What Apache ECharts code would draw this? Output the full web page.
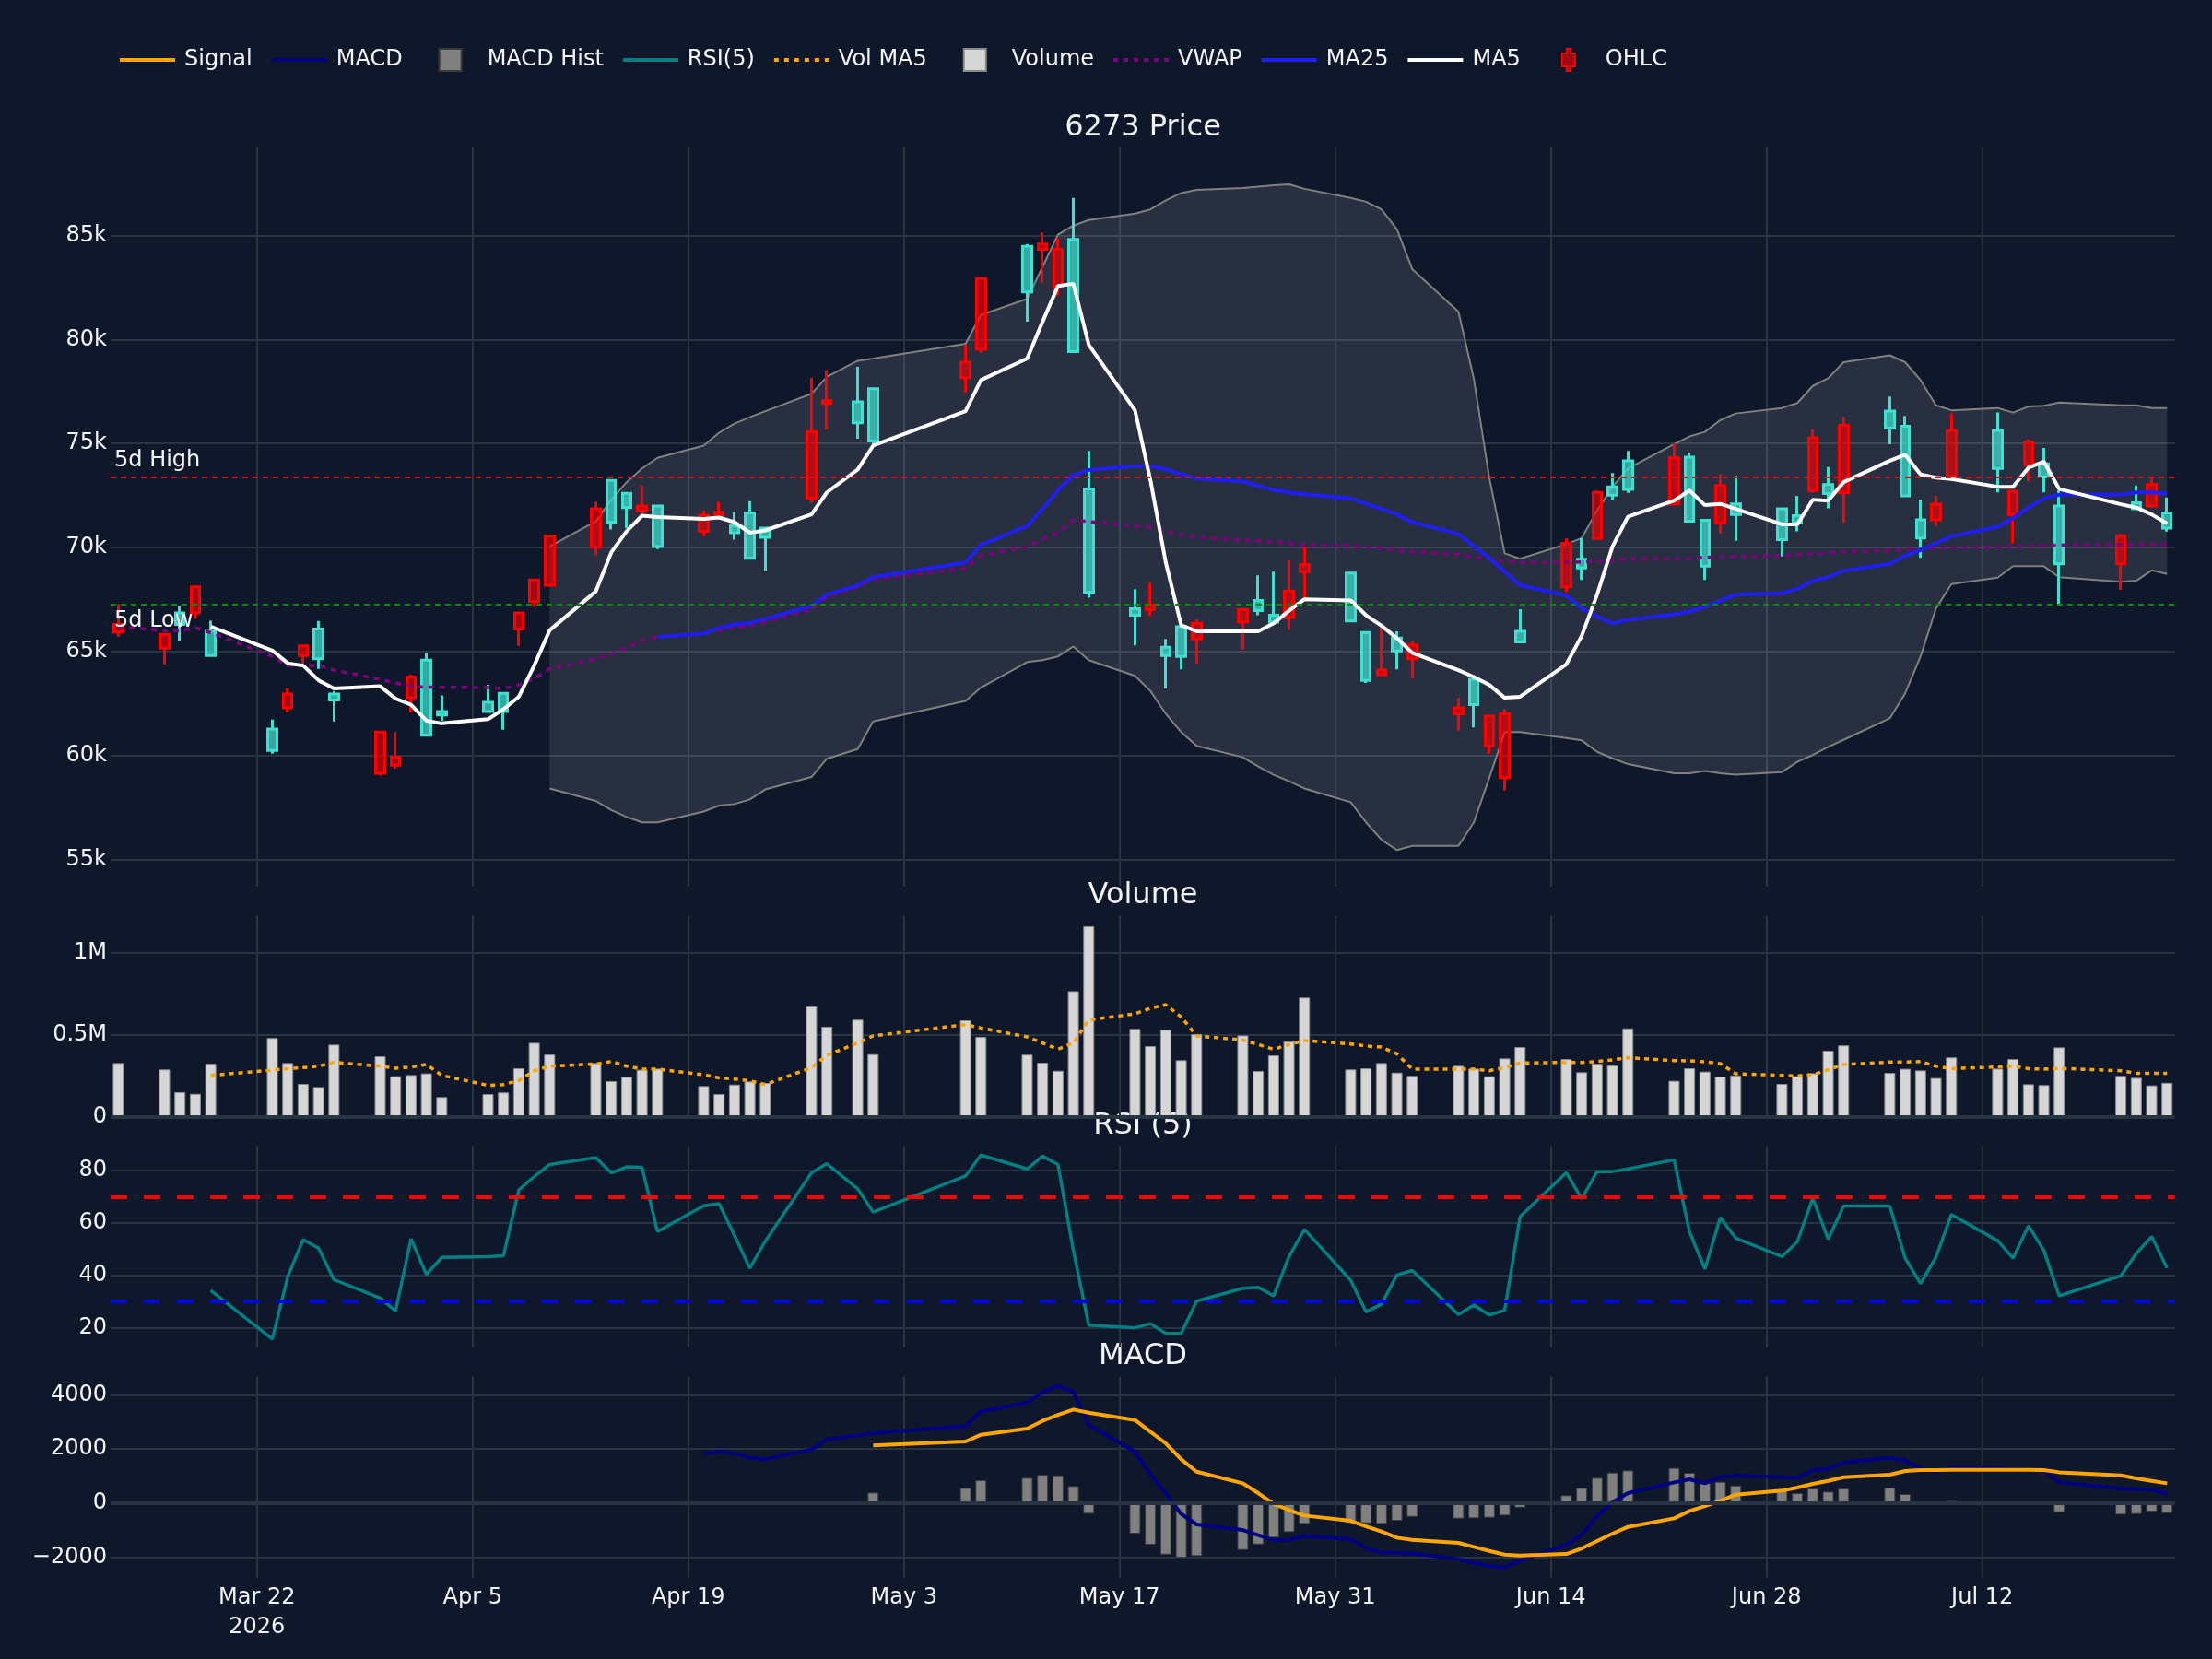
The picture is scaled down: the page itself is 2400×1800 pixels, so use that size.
<!DOCTYPE html>
<html>
<head>
<meta charset="utf-8">
<script src="https://cdn.jsdelivr.net/npm/echarts@6/dist/echarts.min.js"></script>
<style>
html,body{margin:0;padding:0;background:#0f172a;}
#chart{width:2400px;height:1800px;}
</style>
</head>
<body>
<div id="chart"></div>
<script>
// ---------------- DATA ----------------
const tradeDates = [
  '2026-03-13','2026-03-16','2026-03-17','2026-03-18','2026-03-19','2026-03-23','2026-03-24','2026-03-25','2026-03-26','2026-03-27','2026-03-30','2026-03-31',
  '2026-04-01','2026-04-02','2026-04-03','2026-04-06','2026-04-07','2026-04-08','2026-04-09','2026-04-10','2026-04-13','2026-04-14','2026-04-15','2026-04-16','2026-04-17','2026-04-20','2026-04-21','2026-04-22','2026-04-23','2026-04-24','2026-04-27','2026-04-28','2026-04-30',
  '2026-05-01','2026-05-07','2026-05-08','2026-05-11','2026-05-12','2026-05-13','2026-05-14','2026-05-15','2026-05-18','2026-05-19','2026-05-20','2026-05-21','2026-05-22','2026-05-25','2026-05-26','2026-05-27','2026-05-28','2026-05-29',
  '2026-06-01','2026-06-02','2026-06-03','2026-06-04','2026-06-05','2026-06-08','2026-06-09','2026-06-10','2026-06-11','2026-06-12','2026-06-15','2026-06-16','2026-06-17','2026-06-18','2026-06-19','2026-06-22','2026-06-23','2026-06-24','2026-06-25','2026-06-26','2026-06-29','2026-06-30',
  '2026-07-01','2026-07-02','2026-07-03','2026-07-06','2026-07-07','2026-07-08','2026-07-09','2026-07-10','2026-07-13','2026-07-14','2026-07-15','2026-07-16','2026-07-17','2026-07-21','2026-07-22','2026-07-23','2026-07-24'
];

const openP = [
  65930,65160,66850,66850,65970,61270,62290,64800,66080,62950,59140,59530,
  62770,64580,62110,62550,62990,66080,67400,68180,70010,73230,72610,71770,71990,70780,71550,71040,71660,70930,72370,76930,77000,
  77640,78160,79530,84490,84340,82570,84820,72810,67050,67010,65200,66190,65600,66410,67450,66740,66630,68840,
  68770,65910,63880,65640,64650,62000,63660,60460,58920,65970,68110,69430,70430,72920,74170,72080,74350,71310,71200,72100,71860,71530,
  72740,73030,72630,76560,75830,71330,71330,73420,75630,71590,73980,74020,71990,69210,72150,71990,71660
];
const closeP = [
  66300,65820,66300,68110,64800,60240,62950,65270,64650,62660,61120,59910,
  63770,60970,61940,62110,62110,66850,68440,70560,71860,71220,71920,71990,70050,71550,71700,70710,69480,70490,75560,77060,76000,
  75120,78910,82930,82290,84600,84340,79420,67850,66740,67230,64800,64760,66350,67010,66960,66410,67910,69170,
  66460,63610,64100,65020,65310,62290,62440,61890,62000,65460,70200,69010,72650,72520,72790,74310,71260,69100,72980,71590,70380,71200,
  75280,72590,75870,75740,72480,70450,72080,75630,73800,72700,75060,73400,69210,70540,71860,73030,70930
];
const lowP = [
  65710,64380,65490,66570,64800,60080,62070,64360,64160,61630,59030,59360,
  62070,60970,61670,62110,61230,65270,67140,68110,69610,70870,70930,71590,69920,70540,71370,70380,69430,68880,72150,75670,75230,
  74950,77460,79360,80860,82730,82130,79420,67580,65290,66700,63220,64140,64430,65090,66740,66410,66040,67510,
  66410,63480,63830,64140,63700,61190,61340,60080,58320,65420,67850,68440,70380,72300,72630,72040,71260,68440,70670,70320,69570,70780,
  72650,71880,71200,74970,72480,69500,71040,73360,72650,70200,73180,72650,67290,67960,71810,71920,70760
];
const highP = [
  67290,65850,67180,68150,66480,61720,63220,65270,66460,63100,61120,61120,
  63880,64930,62880,63390,63040,66850,68500,70600,72190,73230,72610,72980,71990,71770,72190,71700,72230,70930,78160,78520,78690,
  77640,79750,82930,84600,85150,84870,86810,74640,68000,68290,65600,66190,66570,67070,68660,68840,69390,70050,
  68840,65970,66190,65970,65490,62770,63700,61890,62220,67030,70430,70450,72740,73580,74640,75010,74570,71310,73530,73450,71860,72480,
  75670,73870,76270,77260,76330,72300,72480,76450,76490,72700,75190,74790,72740,70670,72980,73360,72410
];

const volume = [
  327000,288000,150000,140000,323000,479000,327000,200000,181000,439000,368000,247000,
  254000,264000,120000,138000,148000,295000,450000,379000,327000,217000,243000,286000,293000,187000,138000,196000,215000,206000,671000,548000,591000,
  381000,587000,486000,378000,329000,280000,764000,1159000,535000,430000,529000,344000,503000,495000,279000,374000,458000,725000,
  288000,295000,327000,269000,249000,310000,293000,247000,355000,424000,351000,271000,323000,312000,538000,219000,295000,275000,245000,252000,200000,247000,
  265000,402000,434000,267000,292000,282000,236000,361000,293000,351000,198000,193000,422000,249000,237000,191000,207000
];
const volMA5 = [
  null,null,null,null,252000,284000,293000,299000,308000,331000,308000,295000,
  303000,318000,252000,191000,196000,221000,280000,308000,321000,336000,308000,290000,290000,256000,237000,230000,219000,196000,299000,374000,449000,
  492000,561000,540000,486000,449000,411000,449000,589000,626000,660000,682000,607000,492000,467000,439000,411000,439000,464000,
  443000,430000,424000,383000,290000,290000,290000,280000,299000,327000,331000,331000,336000,346000,359000,342000,340000,335000,323000,262000,252000,249000,
  256000,286000,318000,333000,333000,336000,308000,293000,303000,308000,293000,290000,295000,280000,265000,264000,264000
];

const ma5 = [
  null,null,null,null,66190,65045,64430,64320,63610,63215,63325,62730,
  62440,61670,61540,61740,62220,62820,64320,66015,67890,69760,70780,71530,71460,71370,71440,71220,70710,70820,71590,72650,73755,
  74900,76555,78050,79090,80855,82575,82685,79750,76600,73250,69280,66260,65970,65970,65970,66350,66960,67510,
  67450,66740,66240,65640,64930,64100,63770,63390,62770,62820,64380,65750,67735,70050,71480,72255,72740,72035,72100,71860,71110,71110,
  72300,72255,73140,74175,74460,73510,73360,73290,72920,72920,73840,74130,72810,72080,71920,71590,71150
];
const ma25 = [
  null,null,null,null,null,null,null,null,null,null,null,null,
  null,null,null,null,null,null,null,null,null,null,null,null,65706,65860,66130,66300,66370,66570,67180,67735,68180,
  68570,69280,70120,71040,71860,72760,73470,73730,73910,73910,73755,73530,73310,73180,72960,72760,72650,72560,
  72365,72100,71860,71590,71220,70650,70050,69500,68840,68180,67690,67070,66680,66350,66520,66790,66920,67140,67450,67735,67800,68020,
  68400,68570,68880,69210,69610,69870,70200,70535,71000,71420,71920,72365,72540,72540,72650,72650,72590
];
const vwap = [
  66190,66000,65990,66150,65900,64760,64320,64320,64320,64100,63660,63480,
  63330,63280,63280,63260,63215,63390,63700,64160,64650,64870,65200,65530,65706,65860,66015,66130,66240,66410,67010,67625,68110,
  68460,69010,69610,70050,70380,70710,71330,71240,71040,70980,70780,70620,70490,70360,70315,70270,70200,70140,
  70090,70010,69960,69870,69785,69675,69540,69455,69345,69280,69280,69300,69345,69390,69430,69455,69480,69520,69545,69565,69610,69650,
  69700,69740,69785,69870,69900,69920,69960,69985,70030,70050,70070,70090,70115,70140,70140,70160,70160
];
const bbUpper = [
  null,null,null,null,null,null,null,null,null,null,null,null,
  null,null,null,null,null,null,null,70050,71260,72300,73140,73800,74310,74900,75520,75960,76270,76555,77390,78210,78980,
  79090,79800,81185,81960,83500,85044,85485,85750,86060,86260,86700,87050,87205,87290,87360,87425,87470,87250,
  86810,86630,86260,85310,83390,81340,78100,73360,69720,69455,70160,70450,71770,72920,73800,74970,75340,75560,76130,76445,76710,76950,
  77770,78140,78910,79245,78910,78050,76840,76600,76710,76490,76780,76820,76970,76840,76840,76710,76710
];
const bbLower = [
  null,null,null,null,null,null,null,null,null,null,null,null,
  null,null,null,null,null,null,null,58410,57810,57370,57040,56780,56780,57300,57590,57660,57880,58360,58960,59840,60300,
  61630,62620,63260,64490,64580,64760,65240,64580,63830,63100,62000,61120,60460,59910,59470,59070,58760,58410,
  57750,56780,55940,55450,55650,55650,56780,58915,61120,61120,60830,60720,60170,59860,59580,59140,59140,59250,59140,59070,59200,59690,
  60020,60410,60745,61780,62990,64760,67070,68240,68550,69100,69100,69100,68570,68350,68400,68900,68730
];
const fiveDayHigh = 73400;
const fiveDayLow = 67270;

const rsi5 = [
  null,null,null,null,34.2,15.6,39.5,53.6,50.3,38.3,31.3,26.3,
  53.9,40.3,46.8,47.1,47.4,72.6,77.7,82.3,84.9,79.1,81.4,81.2,56.7,66.5,67.3,55.3,42.7,53.0,79.1,82.6,73.0,
  64.1,77.9,85.9,80.6,85.5,82.3,49.5,20.9,19.9,21.5,17.8,17.8,30.1,35.0,35.4,32.1,47.1,57.5,
  38.1,26.0,28.9,40.1,41.8,25.0,28.6,24.8,26.6,62.4,79.2,69.2,79.6,79.6,80.6,84.1,56.5,42.4,62.0,54.2,47.1,52.8,
  69.4,53.8,66.4,66.4,46.5,36.8,46.9,63.2,53.2,46.5,58.9,49.5,32.1,39.8,48.3,54.8,42.8
];
const macdLine = [
  null,null,null,null,null,null,null,null,null,null,null,null,
  null,null,null,null,null,null,null,null,null,null,null,null,null,1818,1898,1841,1670,1614,1977,2352,2500,
  2580,2841,3375,3716,4091,4341,4114,2886,1898,1045,364,-409,-795,-1000,-1193,-1375,-1364,-1227,
  -1341,-1682,-1830,-1852,-1864,-2080,-2216,-2330,-2386,-2136,-1545,-1170,-489,23,364,761,875,727,955,1011,955,932,
  1216,1250,1500,1670,1557,1273,1159,1295,1273,1250,1216,1216,761,534,500,500,330
];
const signalLine = [
  null,null,null,null,null,null,null,null,null,null,null,null,
  null,null,null,null,null,null,null,null,null,null,null,null,null,null,null,null,null,null,null,null,null,
  2125,2273,2523,2750,3034,3261,3455,3341,3068,2636,2205,1614,1159,727,364,-34,-261,-466,
  -659,-864,-1057,-1284,-1364,-1477,-1625,-1773,-1909,-1943,-1886,-1682,-1409,-1136,-886,-568,-295,-114,80,307,455,568,
  705,818,955,1045,1182,1216,1216,1227,1227,1227,1227,1216,1136,1023,909,818,727
];
const macdHist = [
  null,null,null,null,null,null,null,null,null,null,null,null,
  null,null,null,null,null,null,null,null,null,null,null,null,null,null,null,null,null,null,null,null,null,
  386,557,841,932,1045,1023,625,-398,-1136,-1545,-1909,-2023,-1966,-1739,-1534,-1284,-1080,-773,
  -750,-750,-773,-659,-511,-580,-568,-545,-466,-170,284,557,932,1125,1205,1295,1114,818,784,648,477,364,
  534,420,534,568,330,34,-34,80,57,-34,23,-34,-341,-432,-409,-318,-375
];

// tick labels
const xTickDates = ['2026-03-22','2026-04-05','2026-04-19','2026-05-03','2026-05-17','2026-05-31','2026-06-14','2026-06-28','2026-07-12'];
const xTickLabels = ['Mar 22\n2026','Apr 5','Apr 19','May 3','May 17','May 31','Jun 14','Jun 28','Jul 12'];
const priceTicks = [55000,60000,65000,70000,75000,80000,85000];
const priceTickLabels = ['55k','60k','65k','70k','75k','80k','85k'];
const volTicks = [0,500000,1000000];
const volTickLabels = ['0','0.5M','1M'];
const rsiTicks = [20,40,60,80];
const rsiTickLabels = ['20','40','60','80'];
const macdTicks = [-2000,0,2000,4000];
const macdTickLabels = ['\u22122000','0','2000','4000'];

// ---------------- CHART ----------------
const FG = '#f2f5fa', GRIDC = '#283442', FONT = 'DejaVu Sans';
const DAY0 = Date.UTC(2026, 2, 22);
function dayNum(s){ const p = s.split('-').map(Number); return (Date.UTC(p[0], p[1]-1, p[2]) - DAY0) / 864e5; }
const xs = tradeDates.map(dayNum);
function pairs(arr){ const out = []; arr.forEach((v,i) => { if (v != null) out.push([xs[i], v]); }); return out; }
const candleData = xs.map((x,i) => [x, openP[i], closeP[i], lowP[i], highP[i]]);
const upperPts = pairs(bbUpper), lowerPts = pairs(bbLower);
const tickDays = xTickDates.map(dayNum);
function lookup(ticks, labels){ return v => { const k = ticks.indexOf(v); return k >= 0 ? labels[k] : ''; }; }

const X_MIN = -9.5, X_MAX = 124.5;
const GL = 120, GR = 40.4;
const grids = [
  {left: GL, right: GR, top: 160, height: 801.7},
  {left: GL, right: GR, top: 993.3, height: 218.4},
  {left: GL, right: GR, top: 1243.3, height: 218.4},
  {left: GL, right: GR, top: 1493.3, height: 218.4}
];
const axisText = {color: FG, fontSize: 24, fontFamily: FONT};

function mkX(gi){
  return {
    type: 'value', gridIndex: gi, min: X_MIN, max: X_MAX,
    axisLine: {show: false},
    axisTick: {show: false, customValues: tickDays},
    axisLabel: Object.assign({show: gi === 3, customValues: tickDays, formatter: lookup(tickDays, xTickLabels), lineHeight: 32, margin: 6}, axisText),
    splitLine: {show: true, lineStyle: {color: GRIDC, width: 2}}
  };
}
function mkY(gi, min, max, ticks, labels){
  return {
    type: 'value', gridIndex: gi, min: min, max: max,
    axisLine: {show: false},
    axisTick: {show: false, customValues: ticks},
    axisLabel: Object.assign({customValues: ticks, formatter: lookup(ticks, labels), margin: 4}, axisText),
    splitLine: {show: true, lineStyle: {color: GRIDC, width: 2}}
  };
}

// legend icons: every path spans the full 60x24 legend cell so items do not shift
const EDGE = 'M0,0L0.01,0M0,24L0.01,24M59.99,0L60,0M59.99,24L60,24';
const solidIcon = 'path://' + EDGE + 'M0,10L60,10L60,14L0,14Z';
function dotIcon(w, g){ let p = 'path://' + EDGE; for (let x = 0; x + w <= 60; x += w + g) p += 'M' + x + ',10L' + (x + w) + ',10L' + (x + w) + ',14L' + x + ',14Z'; return p; }
const boxIcon = 'path://' + EDGE + 'M18,0L42,0L42,24L18,24Z';
const candleIcon = 'path://' + EDGE + 'M28,0L32,0L32,5L37,5L37,19L32,19L32,24L28,24L28,19L23,19L23,5L28,5Z';

const RED = '#ff0000', TURQ = '#40e0d0';

const option = {
  backgroundColor: '#0f172a',
  animation: false,
  textStyle: {fontFamily: FONT},
  grid: grids,
  legend: {
    left: 130, top: 52, padding: 0, itemWidth: 60, itemHeight: 24, itemGap: 21,
    textStyle: {color: FG, fontSize: 24, fontFamily: FONT, padding: [0,0,0,5]},
    data: [
      {name: 'Signal', icon: solidIcon}, {name: 'MACD', icon: solidIcon}, {name: 'MACD Hist', icon: boxIcon},
      {name: 'RSI(5)', icon: solidIcon}, {name: 'Vol MA5', icon: dotIcon(5, 6)}, {name: 'Volume', icon: boxIcon},
      {name: 'VWAP', icon: dotIcon(5, 6)}, {name: 'MA25', icon: solidIcon}, {name: 'MA5', icon: solidIcon}, {name: 'OHLC', icon: candleIcon}
    ]
  },
  graphic: [
    {type: 'text', x: 1240, y: 139, style: {text: '6273 Price', fill: FG, font: '32px "DejaVu Sans"', textAlign: 'center', textVerticalAlign: 'middle'}},
    {type: 'text', x: 1240, y: 972, style: {text: 'Volume', fill: FG, font: '32px "DejaVu Sans"', textAlign: 'center', textVerticalAlign: 'middle'}},
    {type: 'text', x: 1240, y: 1222, style: {text: 'RSI (5)', fill: FG, font: '32px "DejaVu Sans"', textAlign: 'center', textVerticalAlign: 'middle'}},
    {type: 'text', x: 1240, y: 1472, style: {text: 'MACD', fill: FG, font: '32px "DejaVu Sans"', textAlign: 'center', textVerticalAlign: 'middle'}}
  ],
  xAxis: [mkX(0), mkX(1), mkX(2), mkX(3)],
  yAxis: [
    mkY(0, 53700, 89240, priceTicks, priceTickLabels),
    mkY(1, 0, 1224000, volTicks, volTickLabels),
    mkY(2, 12.5, 89.4, rsiTicks, rsiTickLabels),
    mkY(3, -2761, 4684, macdTicks, macdTickLabels)
  ],
  series: [
    {name: 'BB Band', type: 'custom', xAxisIndex: 0, yAxisIndex: 0, data: upperPts, encode: {x: 0, y: 1}, silent: true, z: 1,
      renderItem: function (params, api) {
        if (params.dataIndex !== 0) return null;
        const pts = upperPts.map(p => api.coord(p)).concat(lowerPts.slice().reverse().map(p => api.coord(p)));
        return {type: 'polygon', shape: {points: pts}, style: {fill: 'rgba(255,255,255,0.105)'}};
      }},
    {name: 'BB Upper', type: 'line', xAxisIndex: 0, yAxisIndex: 0, data: upperPts,
      symbol: 'none', lineStyle: {color: '#808080', width: 2}, z: 1},
    {name: 'BB Lower', type: 'line', xAxisIndex: 0, yAxisIndex: 0, data: lowerPts,
      symbol: 'none', lineStyle: {color: '#808080', width: 2}, z: 1},
    {name: 'OHLC', type: 'candlestick', xAxisIndex: 0, yAxisIndex: 0, data: candleData, barWidth: 10, z: 2,
      itemStyle: {color: 'rgba(255,0,0,0.62)', color0: 'rgba(64,224,208,0.72)', borderColor: RED, borderColor0: TURQ, borderWidth: 3},
      markLine: {
        silent: true, symbol: ['none','none'],
        data: [
          {yAxis: fiveDayHigh, lineStyle: {color: RED, type: [6,5], width: 2},
            label: {show: true, formatter: '5d High', position: 'insideStartTop', color: FG, fontSize: 24, fontFamily: FONT, distance: [4, 6]}},
          {yAxis: fiveDayLow, lineStyle: {color: '#009000', type: [6,5], width: 2},
            label: {show: true, formatter: '5d Low', position: 'insideStartBottom', color: FG, fontSize: 24, fontFamily: FONT, distance: [4, 6]}}
        ]
      }},
    {name: 'VWAP', type: 'line', xAxisIndex: 0, yAxisIndex: 0, data: pairs(vwap), symbol: 'none',
      lineStyle: {color: '#800080', width: 3.5, type: [6,6]}, itemStyle: {color: '#800080'}, z: 3},
    {name: 'MA25', type: 'line', xAxisIndex: 0, yAxisIndex: 0, data: pairs(ma25), symbol: 'none',
      lineStyle: {color: '#1f1ff5', width: 4}, itemStyle: {color: '#1f1ff5'}, z: 3},
    {name: 'MA5', type: 'line', xAxisIndex: 0, yAxisIndex: 0, data: pairs(ma5), symbol: 'none',
      lineStyle: {color: '#ffffff', width: 4}, itemStyle: {color: '#ffffff'}, z: 3},

    {name: 'Volume', type: 'bar', xAxisIndex: 1, yAxisIndex: 1, data: pairs(volume), barWidth: 12,
      itemStyle: {color: '#d6d6d6', borderColor: '#8a8a8a', borderWidth: 1},
      markLine: {silent: true, symbol: ['none','none'], label: {show: false},
        data: [{yAxis: 0}], lineStyle: {color: GRIDC, width: 4, type: 'solid'}}},
    {name: 'Vol MA5', type: 'line', xAxisIndex: 1, yAxisIndex: 1, data: pairs(volMA5), symbol: 'none',
      lineStyle: {color: '#ffa500', width: 3.5, type: [5,5]}, itemStyle: {color: '#ffa500'}, z: 3},

    {name: 'RSI(5)', type: 'line', xAxisIndex: 2, yAxisIndex: 2, data: pairs(rsi5), symbol: 'none',
      lineStyle: {color: '#008080', width: 3.5}, itemStyle: {color: '#008080'},
      markLine: {silent: true, symbol: ['none','none'], label: {show: false},
        data: [
          {yAxis: 70, lineStyle: {color: '#ff0000', width: 4, type: [18,18]}},
          {yAxis: 30, lineStyle: {color: '#0000ff', width: 4, type: [18,18]}}
        ]}},

    {name: 'MACD Hist', type: 'bar', xAxisIndex: 3, yAxisIndex: 3, data: pairs(macdHist), barWidth: 12,
      itemStyle: {color: '#808080', borderColor: '#3a3a3a', borderWidth: 1},
      markLine: {silent: true, symbol: ['none','none'], label: {show: false},
        data: [{yAxis: 0}], lineStyle: {color: GRIDC, width: 4, type: 'solid'}}},
    {name: 'MACD', type: 'line', xAxisIndex: 3, yAxisIndex: 3, data: pairs(macdLine), symbol: 'none',
      lineStyle: {color: '#000080', width: 4}, itemStyle: {color: '#000080'}, z: 3},
    {name: 'Signal', type: 'line', xAxisIndex: 3, yAxisIndex: 3, data: pairs(signalLine), symbol: 'none',
      lineStyle: {color: '#ffa500', width: 4}, itemStyle: {color: '#ffa500'}, z: 4}
  ]
};

const chart = echarts.init(document.getElementById('chart'), null, {renderer: 'canvas', width: 2400, height: 1800});
chart.setOption(option);
</script>
</body>
</html>
